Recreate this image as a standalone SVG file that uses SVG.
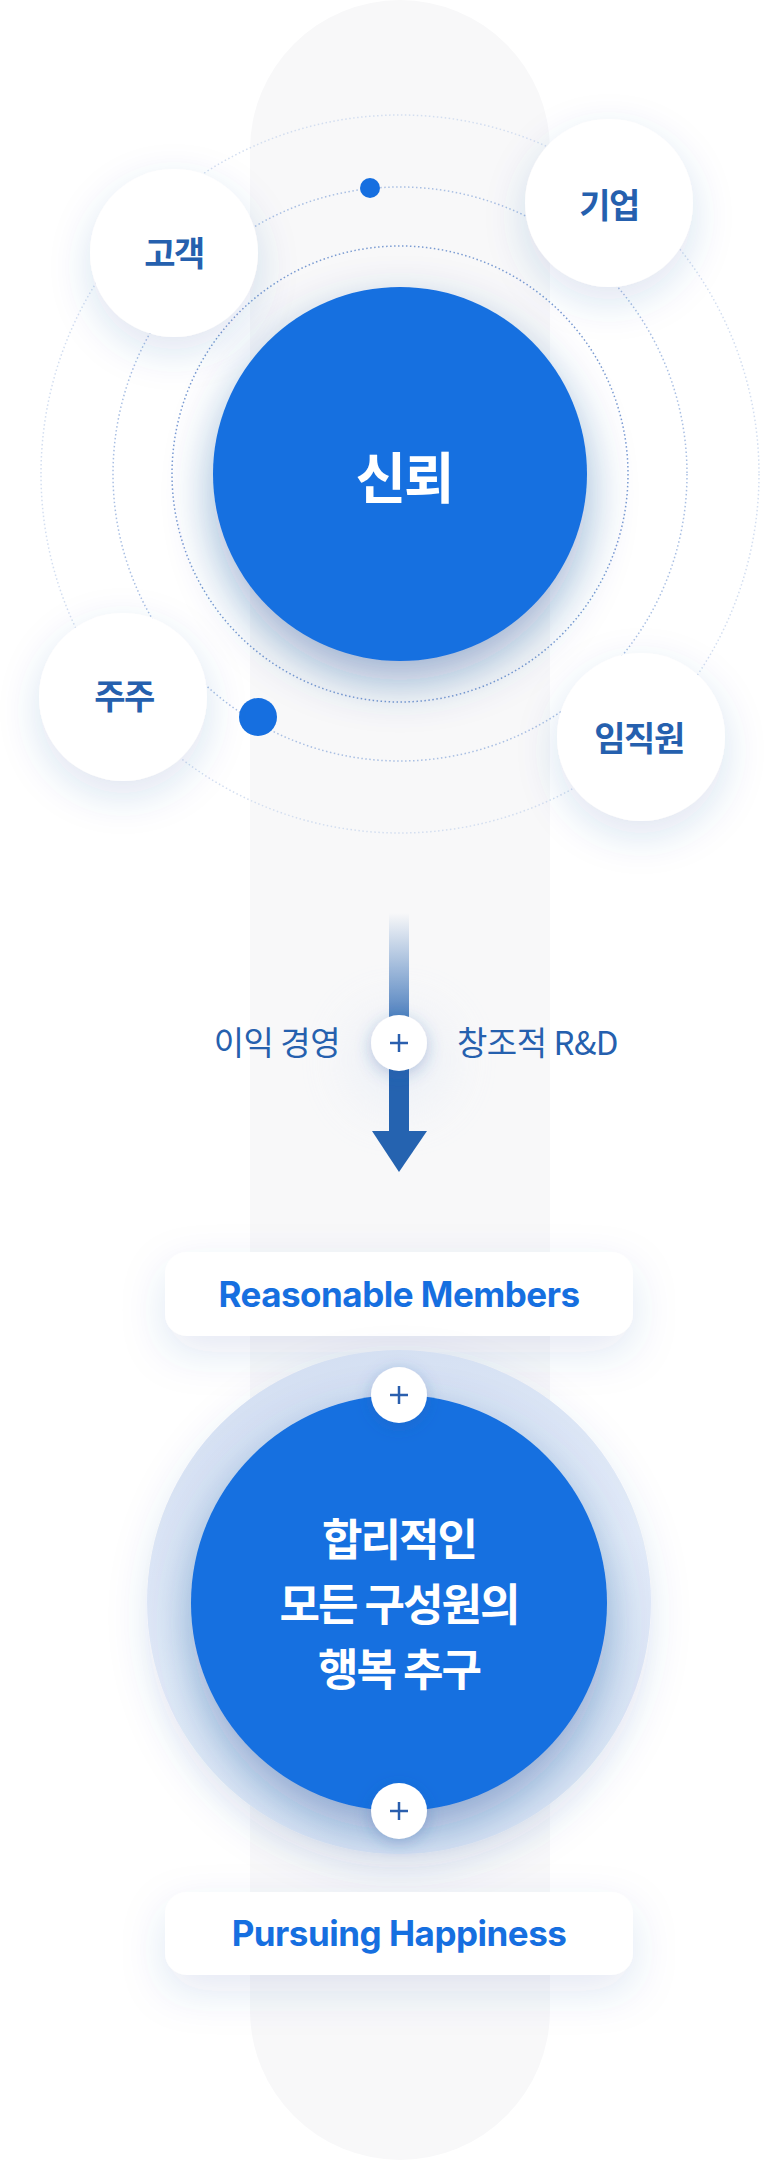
<svg xmlns="http://www.w3.org/2000/svg" width="781" height="2160" viewBox="0 0 781 2160">
<defs>
<style>
.kr{font-family:"Noto Sans CJK KR","Noto Sans",sans-serif;}
.en{font-family:Inter,"Noto Sans","Liberation Sans",sans-serif;font-weight:700;fill:#166fe0;text-anchor:middle;}
.sat{fill:#ffffff;filter:url(#satShadow);}
.satText{font-weight:700;font-size:34px;fill:#2560ae;text-anchor:middle;letter-spacing:-1.5px;}
.ring{fill:none;stroke-width:1.5;stroke-dasharray:1.5 2.5;}
.plus{stroke:#2a5fae;stroke-width:2.5;stroke-linecap:butt;}
.plusBg{fill:#ffffff;filter:url(#plusShadow);}
.box{fill:#ffffff;filter:url(#boxShadow);}
.white{font-weight:700;fill:#ffffff;text-anchor:middle;}
.lbl{font-size:33px;font-weight:400;fill:#2560ae;letter-spacing:-0.5px;}
</style>
<filter id="satShadow" x="-60%" y="-60%" width="220%" height="220%">
<feDropShadow dx="0" dy="14" stdDeviation="20" flood-color="#2b5aa8" flood-opacity="0.16"/>
</filter>
<filter id="mainShadow" x="-50%" y="-50%" width="200%" height="200%">
<feDropShadow dx="0" dy="20" stdDeviation="24" flood-color="#1d4c98" flood-opacity="0.42"/>
</filter>
<filter id="plusShadow" x="-100%" y="-100%" width="300%" height="300%">
<feDropShadow dx="0" dy="4" stdDeviation="8" flood-color="#2b5aa8" flood-opacity="0.3"/>
</filter>
<filter id="boxShadow" x="-30%" y="-100%" width="160%" height="300%">
<feDropShadow dx="0" dy="16" stdDeviation="22" flood-color="#2b5aa8" flood-opacity="0.13"/>
</filter>
<filter id="haloShadow" x="-30%" y="-30%" width="160%" height="160%">
<feDropShadow dx="0" dy="14" stdDeviation="20" flood-color="#2b5aa8" flood-opacity="0.12"/>
</filter>
<filter id="glow" x="-200%" y="-200%" width="500%" height="500%">
<feGaussianBlur stdDeviation="30"/>
</filter>
<linearGradient id="shaftGrad" x1="0" y1="913" x2="0" y2="1016" gradientUnits="userSpaceOnUse">
<stop offset="0" stop-color="#2563b0" stop-opacity="0"/>
<stop offset="1" stop-color="#2563b0" stop-opacity="0.78"/>
</linearGradient>
<linearGradient id="haloGrad" x1="0" y1="0" x2="0.3" y2="1">
<stop offset="0" stop-color="#d1ddf1"/>
<stop offset="0.6" stop-color="#e2ebf8"/>
<stop offset="1" stop-color="#dbe5f5"/>
</linearGradient>
</defs>

<rect id="track" x="250" y="0" width="300" height="2160" rx="150" ry="150" fill="#f8f8f9"/>

<g id="rings">
<circle class="ring" cx="400" cy="474" r="359" stroke="#d3def0"/>
<circle class="ring" cx="400" cy="474" r="287" stroke="#a9bfe3"/>
<circle class="ring" cx="400" cy="474" r="228" stroke="#7a9bd2"/>
<circle cx="370" cy="188" r="10" fill="#166fe0"/>
<circle cx="258" cy="717" r="19" fill="#166fe0"/>
</g>

<g id="trust">
<circle cx="400" cy="474" r="187" fill="#166fe0" filter="url(#mainShadow)"/>
<text class="kr white" x="404" y="498" font-size="55" letter-spacing="-2">신뢰</text>
</g>

<g id="customer">
<circle class="sat" cx="174" cy="253" r="84"/>
<text class="kr satText" x="174" y="266">고객</text>
</g>
<g id="company">
<circle class="sat" cx="609" cy="203" r="84"/>
<text class="kr satText" x="609" y="218">기업</text>
</g>
<g id="shareholder">
<circle class="sat" cx="123" cy="697" r="84"/>
<text class="kr satText" x="124" y="709">주주</text>
</g>
<g id="employee">
<circle class="sat" cx="641" cy="737" r="84"/>
<text class="kr satText" x="639" y="751">임직원</text>
</g>

<g id="connectors">
<circle cx="399" cy="1060" r="45" fill="#d8e2f2" opacity="0.45" filter="url(#glow)"/>
<rect x="389" y="913" width="20" height="104" fill="url(#shaftGrad)"/>
<rect x="389" y="1068" width="20" height="64" fill="#2563b0"/>
<polygon points="372,1131 427,1131 399,1172" fill="#2563b0"/>
</g>

<g id="plus-mid">
<circle class="plusBg" cx="399" cy="1043" r="28"/>
<line class="plus" x1="390" y1="1043" x2="408" y2="1043"/>
<line class="plus" x1="399" y1="1034" x2="399" y2="1052"/>
</g>
<g id="label-profit">
<text class="kr lbl" x="340" y="1055" text-anchor="end">이익 경영</text>
</g>
<g id="label-rnd">
<text class="kr lbl" x="457" y="1055" text-anchor="start">창조적 R&amp;D</text>
</g>

<g id="reasonable">
<rect class="box" x="165" y="1252" width="468" height="84" rx="22" ry="22"/>
<text class="en" x="399" y="1307" font-size="35" letter-spacing="-0.5">Reasonable Members</text>
</g>

<g id="happiness">
<circle cx="399" cy="1602" r="252" fill="url(#haloGrad)" filter="url(#haloShadow)"/>
<circle cx="399" cy="1603" r="208" fill="#166fe0" filter="url(#mainShadow)"/>
<text class="kr white" x="399" y="1556" font-size="44" letter-spacing="-2">합리적인</text>
<text class="kr white" x="399" y="1621" font-size="44" letter-spacing="-2">모든 구성원의</text>
<text class="kr white" x="399" y="1686" font-size="44" letter-spacing="-2">행복 추구</text>
</g>

<g id="plus-top">
<circle class="plusBg" cx="399" cy="1395" r="28"/>
<line class="plus" x1="390" y1="1395" x2="408" y2="1395"/>
<line class="plus" x1="399" y1="1386" x2="399" y2="1404"/>
</g>
<g id="plus-bottom">
<circle class="plusBg" cx="399" cy="1811" r="28"/>
<line class="plus" x1="390" y1="1811" x2="408" y2="1811"/>
<line class="plus" x1="399" y1="1802" x2="399" y2="1820"/>
</g>

<g id="pursuing">
<rect class="box" x="165" y="1892" width="468" height="83" rx="22" ry="22"/>
<text class="en" x="399" y="1946" font-size="35" letter-spacing="-0.5">Pursuing Happiness</text>
</g>
</svg>
